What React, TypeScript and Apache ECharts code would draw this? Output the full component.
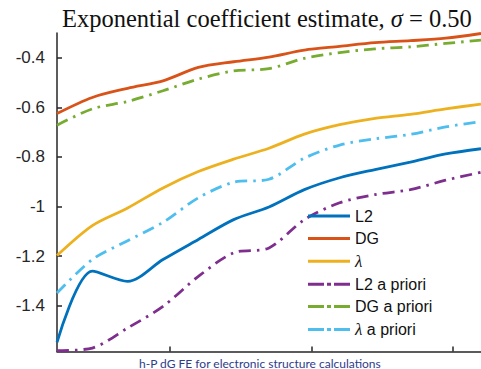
import React, { useEffect, useRef } from "react";
import * as echarts from "echarts";

const xValues = [0, 1, 2, 3, 4, 5, 6, 7, 8, 9, 10, 11, 12];
const l2 = [-1.548, -1.261, -1.302, -1.214, -1.133, -1.053, -1.002, -0.932, -0.884, -0.851, -0.821, -0.788, -0.767];
const dg = [-0.625, -0.56, -0.523, -0.493, -0.439, -0.416, -0.397, -0.369, -0.354, -0.339, -0.331, -0.321, -0.302];
const lam = [-1.198, -1.077, -1.006, -0.925, -0.859, -0.809, -0.765, -0.708, -0.67, -0.644, -0.628, -0.606, -0.587];
const l2Prior = [-1.582, -1.571, -1.49, -1.403, -1.282, -1.187, -1.167, -1.053, -0.985, -0.952, -0.932, -0.894, -0.862];
const dgPrior = [-0.672, -0.606, -0.576, -0.533, -0.486, -0.453, -0.444, -0.402, -0.379, -0.364, -0.356, -0.342, -0.329];
const lamPrior = [-1.349, -1.214, -1.138, -1.064, -0.965, -0.902, -0.89, -0.805, -0.752, -0.727, -0.709, -0.679, -0.657];
const yTicks = [-1.4, -1.2, -1, -0.8, -0.6, -0.4];
const xTicks = [3.2, 7.2, 11.2];
const seriesNames = ["L2", "DG", "λ", "L2 a priori", "DG a priori", "λ a priori"];

const colors = ["#0072BD", "#D95319", "#EDB120", "#7E2F8E", "#77AC30", "#4DBEEE"];

const solidIcon = "path://M0,0h42v3h-42z";
const dashIcon = "path://M0,0h16v3h-16zM19,0h4v3h-4zM26,0h16v3h-16z";

export default function App() {
  const ref = useRef<HTMLDivElement>(null);
  useEffect(() => {
    document.body.style.margin = "0";
    if (!ref.current) return;
    const chart = echarts.init(ref.current, null, { renderer: "svg" });
    const allData = [l2, dg, lam, l2Prior, dgPrior, lamPrior];
    const dashDot = [12, 6, 2.5, 6];
    const series = allData.map((vals, i) => ({
      name: seriesNames[i],
      type: "line",
      data: xValues.map((x, j) => [x, vals[j]]),
      symbol: "none",
      smooth: 0.3,
      lineStyle: {
        color: colors[i],
        width: 2.8,
        type: i >= 3 ? dashDot : "solid",
        cap: "butt",
      },
      itemStyle: { color: colors[i] },
    }));
    chart.setOption({
      animation: false,
      backgroundColor: "#ffffff",
      title: {
        text: "Exponential coefficient estimate, {i|σ} = 0.50",
        left: 57,
        top: 1,
        textStyle: {
          fontFamily: "Liberation Serif",
          fontSize: 24.5,
          fontWeight: "normal",
          color: "#111111",
          rich: {
            i: { fontFamily: "Liberation Serif", fontStyle: "italic", fontSize: 24.5, color: "#111111" },
          },
        },
      },
      grid: { left: 57, right: 0, top: 33, bottom: 17.5, containLabel: false },
      legend: {
        orient: "vertical",
        left: 303,
        top: 203,
        itemWidth: 42,
        itemHeight: 3,
        itemGap: 6.4,
        data: seriesNames.map((n, i) => ({ name: n, icon: i >= 3 ? dashIcon : solidIcon })),
        formatter: (name: string) => name.replace("λ", "{g|λ}"),
        textStyle: {
          fontFamily: "Liberation Sans",
          fontSize: 16,
          lineHeight: 16,
          color: "#111111",
          rich: {
            g: { fontFamily: "Liberation Serif", fontStyle: "italic", fontSize: 17, lineHeight: 16, color: "#111111" },
          },
        },
      },
      xAxis: {
        type: "value",
        min: 0,
        max: 12,
        axisLine: { lineStyle: { color: "#262626", width: 1.5 } },
        axisTick: { show: true, inside: true, length: 5, customValues: xTicks, lineStyle: { color: "#262626", width: 1.5 } },
        axisLabel: { show: false },
        splitLine: { show: false },
      },
      yAxis: {
        type: "value",
        min: -1.585,
        max: -0.3,
        axisLine: { show: true, lineStyle: { color: "#262626", width: 1.5 } },
        axisTick: { show: true, inside: true, length: 5, customValues: yTicks, lineStyle: { color: "#262626", width: 1.5 } },
        axisLabel: {
          customValues: yTicks,
          margin: 12,
          fontFamily: "Liberation Sans",
          fontSize: 17,
          color: "#262626",
        },
        splitLine: { show: false },
      },
      graphic: [
        {
          type: "text",
          left: 139,
          top: 357,
          style: {
            text: "h-P dG FE for electronic structure calculations",
            fontFamily: "Lato",
            fontSize: 12,
            fill: "#2E3C8C",
          },
        },
      ],
      series,
    });
    return () => chart.dispose();
  }, []);
  return <div ref={ref} style={{ width: 481, height: 369 }} />;
}
